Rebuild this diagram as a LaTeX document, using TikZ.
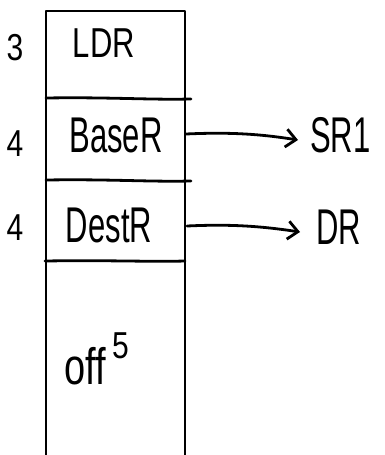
\documentclass[tikz,border=0pt]{standalone}
\usepackage{fontspec}
\setmainfont{Liberation Sans}
\usetikzlibrary{arrows.meta}
\begin{document}
\begin{tikzpicture}[x=1pt,y=-1pt,
  ink/.style={line width=2.8pt, line cap=round, line join=round},
  lbl/.style={font=\fontsize{31}{31}\selectfont, inner sep=0pt, yscale=1.35, transform shape},
  big/.style={lbl, yscale=1.2},
  num/.style={font=\fontsize{30}{30}\selectfont, inner sep=0pt, yscale=1.25, transform shape},
  arr/.style={ink, -{Straight Barb[length=10pt,width=18pt,line width=2.8pt]}}]
\useasboundingbox (0,0) rectangle (385,455);
% box
\coordinate (tl) at (46,11);
\coordinate (tr) at (185,11);
\coordinate (bl) at (46,455);
\coordinate (br) at (185,455);
\draw[ink] (bl) -- (tl) -- (tr) -- (br);
\coordinate (d1l) at (46,98);  \coordinate (d1r) at (191,99);
\coordinate (d2l) at (46,180); \coordinate (d2r) at (191,181);
\coordinate (d3l) at (45,261); \coordinate (d3r) at (185,261);
\draw[ink] (d1l) .. controls (110,97) and (150,100) .. (d1r);
\draw[ink] (d2l) .. controls (110,179) and (150,182) .. (d2r);
\draw[ink] (d3l) .. controls (110,260) and (150,262) .. (d3r);
% labels
\node[lbl] (ldr) at (104,43) {LDR};
\node[big] (base) at (116,135) {BaseR};
\node[big] (dest) at (109,225) {DestR};
\node[lbl, font=\fontsize{38}{38}\selectfont, anchor=base west] (off) at (64,384) {off};
\node[num, anchor=base west] (five) at ([xshift=6pt,yshift=26pt]off.base east) {5};
\node[num] (n3) at (15,48) {3};
\node[num] (n4a) at (15,144) {4};
\node[num] (n4b) at (15,228) {4};
\node[big, anchor=west] (sr1) at (310,135) {SR1};
\node[big, anchor=west] (dr) at (316,227) {DR};
\coordinate (a1) at (186,134);
\coordinate (a2) at (187,226);
\draw[arr] (a1) .. controls (230,132) and (260,134) .. (298,140);
\draw[arr] (a2) .. controls (230,224) and (260,226) .. (300,232);
\end{tikzpicture}
\end{document}
